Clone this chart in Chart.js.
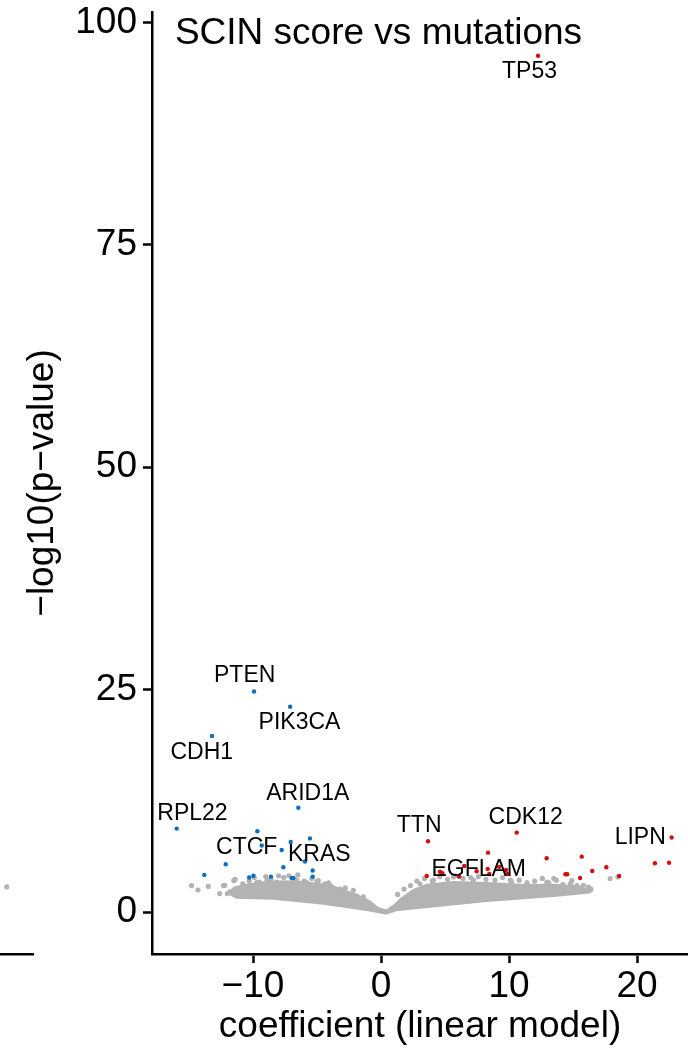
<!DOCTYPE html>
<html lang="en">
<head>
<meta charset="utf-8"/>
<script src="https://cdn.jsdelivr.net/npm/chart.js@4.4.1/dist/chart.umd.min.js"></script>
<style>
    body { margin: 0; background: #fff; }
    #wrap { position: relative; width: 688px; height: 1053px; }
    #wrap canvas { position: absolute; top: 0; left: 0; }
</style>
</head>
<body>
<div id="wrap">
    <canvas id="side" width="34" height="1053"></canvas>
    <canvas id="main" width="688" height="1053"></canvas>
</div>
<script>
    // significant genes, negative coefficient
    const bluePoints = [
        [-9.92, 24.8], [-7.1, 23.1], [-13.2, 19.8], [-6.46, 11.75], [-15.96, 9.4],
        [-9.66, 9.1], [-5.55, 8.3], [-7.05, 7.9], [-9.32, 7.5], [-7.76, 7.0],
        [-5.94, 5.7], [-12.13, 5.4], [-7.63, 5.05], [-5.34, 4.7], [-13.8, 4.2],
        [-5.34, 4.0], [-10.3, 3.9], [-9.97, 4.1], [-8.6, 4.0], [-6.98, 3.85], [-6.85, 3.85]
    ];
    // significant genes, positive coefficient
    const redPoints = [
        [12.27, 96.25], [3.67, 7.98], [10.6, 8.95], [22.7, 8.4], [8.36, 6.7],
        [12.94, 6.07], [15.68, 6.25], [21.4, 5.5], [22.5, 5.57], [17.6, 5.05],
        [16.5, 4.64], [14.4, 4.27], [14.55, 4.27], [15.55, 3.85], [18.6, 4.08],
        [3.57, 4.08], [4.6, 4.56], [4.8, 4.4], [6.5, 5.2], [7.47, 4.6],
        [8.33, 4.87], [8.46, 4.3], [9.22, 5.1], [9.77, 4.75], [9.87, 4.3], [6.1, 4.0]
    ];
    // loose non-significant genes around the dense cloud
    const grayPoints = [
        [-14.8, 3.0], [-14.3, 2.5], [-13.5, 2.9], [-12.6, 2.1], [-12.3, 3.0], [-12.0, 2.1],
        [-12.2, 3.03], [-11.8, 2.28], [-11.5, 3.55], [-11.4, 3.7], [-11.2, 2.4], [-10.8, 3.2],
        [-10.6, 2.84], [-10.3, 3.5], [-9.9, 3.9], [-9.7, 3.33], [-9.5, 3.4], [-9.0, 4.0],
        [-8.9, 3.6], [-8.6, 3.7], [-8.15, 3.4], [-8.0, 4.1], [-7.6, 3.9], [-7.2, 4.1],
        [-6.8, 3.7], [-6.6, 3.6], [-6.5, 4.2], [-6.0, 3.5], [-5.8, 3.33], [-5.4, 3.8],
        [-5.0, 3.48], [-4.9, 3.55], [-4.4, 3.2], [-4.1, 3.3], [-3.98, 3.03], [-3.8, 2.8],
        [-3.2, 2.6], [-2.8, 2.73], [-2.6, 2.1], [-2.16, 2.47], [-1.9, 1.83], [-1.4, 1.3],
        [-1.38, 1.72],
        [1.3, 2.0], [1.8, 2.6], [2.3, 3.0], [2.8, 3.5], [3.05, 3.2], [3.4, 3.8],
        [4.0, 3.5], [4.1, 3.6], [4.6, 4.0], [5.2, 3.7], [5.65, 3.97], [5.8, 4.1],
        [6.4, 3.8], [7.0, 3.9], [7.2, 3.6], [7.6, 4.0], [8.2, 3.7], [8.9, 3.6],
        [9.5, 3.9], [10.1, 3.6], [10.2, 3.4], [10.8, 3.6], [11.4, 3.33], [12.0, 3.5],
        [12.6, 3.8], [12.95, 3.4], [13.1, 3.3], [13.5, 3.78], [13.7, 3.6], [14.2, 3.1],
        [14.8, 3.2], [14.9, 3.55], [15.3, 3.0], [15.8, 3.03], [16.2, 2.84], [16.4, 2.6],
        [17.9, 3.78], [18.5, 3.97]
    ];
    // outline of the dense cloud
    const cloudTop = [
        [-12.05, 2.1], [-11.5, 2.9], [-10.5, 3.2], [-9.0, 3.5], [-7.4, 3.6], [-6.0, 3.5],
        [-4.8, 3.3], [-3.7, 3.0], [-2.7, 2.5], [-1.8, 2.0], [-0.86, 1.35], [-0.2, 0.6],
        [0.4, 0.3], [1.0, 0.9], [1.5, 1.6], [2.5, 2.6], [3.57, 3.2], [5.65, 3.5],
        [8.26, 3.4], [10.9, 3.2], [13.5, 3.2], [15.5, 3.0], [16.6, 2.4]
    ];
    const cloudBottom = [
        [-12.05, 2.1], [-11.3, 1.53], [-8.4, 1.4], [-4.5, 0.85], [-1.0, 0.1],
        [0.4, -0.27], [1.2, 0.1], [3.05, 0.4], [8.26, 1.16], [13.5, 1.72],
        [16.3, 2.1], [16.6, 2.4]
    ];

    const labelText = ['TP53', 'PTEN', 'PIK3CA', 'CDH1', 'ARID1A', 'RPL22', 'CTCF', 'KRAS', 'TTN', 'CDK12', 'EGFLAM', 'LIPN'];
    const labelX = [11.6, -10.65, -6.37, -14.0, -5.72, -14.73, -10.49, -4.82, 2.98, 11.3, 7.63, 20.25];
    const labelY = [94.45, 26.6, 21.27, 17.93, 13.37, 11.12, 7.26, 6.44, 9.7, 10.63, 4.79, 8.38];

    const xTicks = [-10, 0, 10, 20];
    const yTicks = [0, 25, 50, 75, 100];

    // piece of the neighbouring panel at the left edge
    const sidePoints = [[0.2, 2.85]];

    const FONT = '"Liberation Sans", Arial, Helvetica, sans-serif';
    const BLUE = '#0a6fc2';
    const RED = '#d40f0f';
    const GRAY = '#b3b3b3';

    const toXY = arr => arr.map(p => ({x: p[0], y: p[1]}));

    const textPlugin = {
        id: 'geneText',
        afterDatasetsDraw(chart) {
            const {ctx, scales: {x, y}} = chart;
            ctx.save();
            ctx.fillStyle = '#000';
            ctx.textAlign = 'center';
            ctx.textBaseline = 'middle';
            ctx.font = '23px ' + FONT;
            labelText.forEach((t, i) => {
                ctx.fillText(t, x.getPixelForValue(labelX[i]), y.getPixelForValue(labelY[i]));
            });
            ctx.textAlign = 'left';
            ctx.font = '37px ' + FONT;
            ctx.fillText('SCIN score vs mutations', x.getPixelForValue(-16.1), y.getPixelForValue(98.76));
            ctx.restore();
        }
    };

    const axisGrid = {
        display: true,
        drawOnChartArea: false,
        drawTicks: true,
        tickLength: 9,
        tickWidth: 2.5,
        tickColor: '#000'
    };

    // no extra room for the first/last tick label
    const noPad = s => { s.paddingTop = 0; s.paddingBottom = 0; s.paddingLeft = 0; s.paddingRight = 0; };

    new Chart(document.getElementById('main'), {
        type: 'scatter',
        data: {
            datasets: [
                {
                    data: toXY(redPoints),
                    backgroundColor: RED,
                    pointRadius: 2.2,
                    borderWidth: 0
                },
                {
                    data: toXY(bluePoints),
                    backgroundColor: BLUE,
                    pointRadius: 2.2,
                    borderWidth: 0
                },
                {
                    data: toXY(grayPoints),
                    backgroundColor: GRAY,
                    pointRadius: 2.6,
                    borderWidth: 0
                },
                {
                    type: 'line',
                    data: toXY(cloudTop),
                    showLine: true,
                    borderWidth: 0,
                    borderColor: GRAY,
                    pointRadius: 0,
                    tension: 0,
                    fill: '+1',
                    backgroundColor: GRAY
                },
                {
                    type: 'line',
                    data: toXY(cloudBottom),
                    showLine: true,
                    borderWidth: 0,
                    borderColor: GRAY,
                    pointRadius: 0,
                    tension: 0,
                    fill: false
                }
            ]
        },
        options: {
            responsive: false,
            animation: false,
            events: [],
            layout: {padding: {top: 12, right: 0, left: 0, bottom: 0}, autoPadding: false},
            plugins: {legend: {display: false}, tooltip: {enabled: false}},
            scales: {
                x: {
                    type: 'linear',
                    min: -17.89,
                    max: 23.98,
                    afterFit: s => { s.height = 99; noPad(s); },
                    afterBuildTicks: s => { s.ticks = xTicks.map(v => ({value: v})); },
                    grid: axisGrid,
                    border: {display: true, width: 2.5, color: '#000'},
                    ticks: {
                        color: '#000',
                        padding: 2,
                        maxRotation: 0,
                        font: {family: FONT, size: 37},
                        callback: v => v < 0 ? '\u2212' + Math.abs(v) : String(v)
                    },
                    title: {
                        display: true,
                        text: 'coefficient (linear model)',
                        color: '#000',
                        font: {family: FONT, size: 37},
                        padding: {top: 0, bottom: 4}
                    }
                },
                y: {
                    type: 'linear',
                    min: -4.69,
                    max: 101.16,
                    afterFit: s => { s.width = 152; noPad(s); },
                    afterBuildTicks: s => { s.ticks = yTicks.map(v => ({value: v})); },
                    grid: axisGrid,
                    border: {display: true, width: 2.5, color: '#000'},
                    ticks: {
                        color: '#000',
                        padding: 6,
                        font: {family: FONT, size: 37}
                    },
                    title: {
                        display: true,
                        text: '\u2212log10(p\u2212value)',
                        color: '#000',
                        font: {family: FONT, size: 37},
                        padding: {top: 21, bottom: 0}
                    }
                }
            }
        },
        plugins: [textPlugin]
    });

    new Chart(document.getElementById('side'), {
        type: 'scatter',
        data: {
            datasets: [{
                data: toXY(sidePoints),
                backgroundColor: GRAY,
                pointRadius: 2.6,
                borderWidth: 0
            }]
        },
        options: {
            responsive: false,
            animation: false,
            events: [],
            layout: {padding: {top: 12, right: 0, left: 0, bottom: 0}, autoPadding: false},
            plugins: {legend: {display: false}, tooltip: {enabled: false}},
            scales: {
                x: {
                    type: 'linear',
                    min: 0,
                    max: 1,
                    afterFit: s => { s.height = 99; noPad(s); },
                    grid: {display: true, drawOnChartArea: false, drawTicks: false},
                    border: {display: true, width: 2.5, color: '#000'},
                    ticks: {display: false}
                },
                y: {
                    type: 'linear',
                    display: false,
                    min: -4.69,
                    max: 101.16
                }
            }
        }
    });
</script>
</body>
</html>
